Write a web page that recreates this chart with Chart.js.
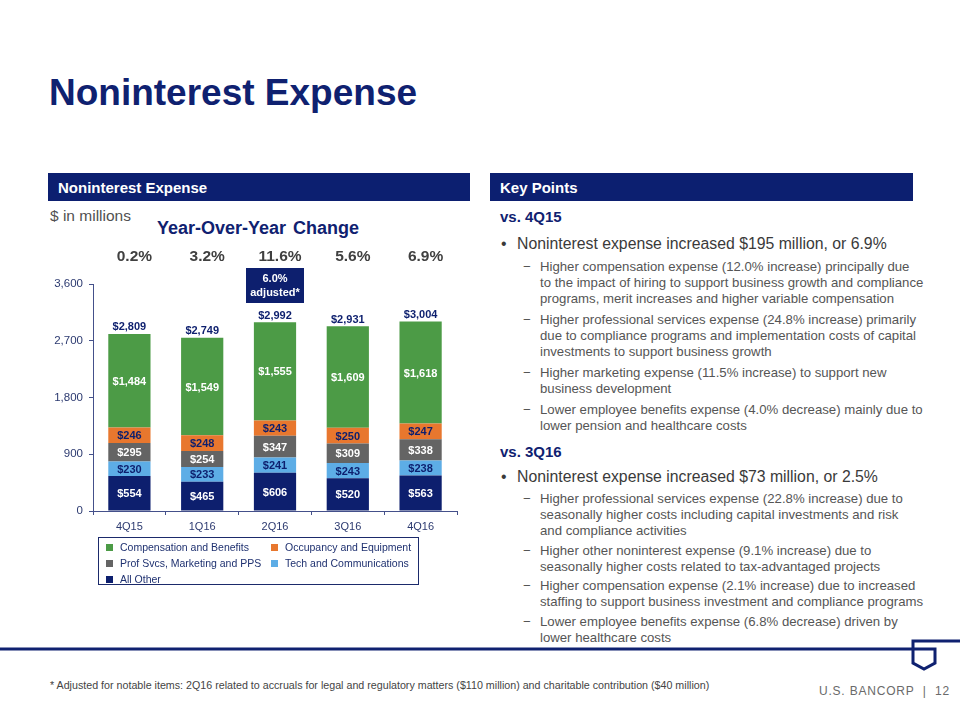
<!DOCTYPE html>
<html>
<head>
<meta charset="utf-8">
<script src="https://cdn.jsdelivr.net/npm/chart.js@4/dist/chart.umd.min.js"></script>
<style>
  body { margin: 0; width: 960px; height: 720px; background: #fff; position: relative; overflow: hidden;
         font-family: "Liberation Sans", Arial, sans-serif; }
  .abs { position: absolute; }
  .title { left: 49px; top: 72px; font-size: 37px; font-weight: bold; color: #0f2170; }
  .hdr { top: 173px; height: 28px; background: #0c1f70; color: #fff; font-weight: bold; font-size: 15px;
         line-height: 29px; padding-left: 10px; box-sizing: border-box; }
  .units { left: 50px; top: 207px; font-size: 15.5px; color: #505050; }
  .yoy { left: 157px; top: 218px; font-size: 18px; font-weight: bold; color: #0f2170; word-spacing: 2px; }
  #legend { left: 98px; top: 537px; width: 321px; height: 48px; border: 1px solid #1b2a6b; box-sizing: border-box;
            font-size: 10.5px; color: #1f3170; }
  #legend .item { position: absolute; white-space: nowrap; }
  #legend .sw { display: inline-block; width: 7px; height: 7px; margin-right: 7px; vertical-align: 0px; }
  .kp { left: 500px; color: #3c3c3c; white-space: nowrap; }
  .vs { font-size: 15px; font-weight: bold; color: #0f2170; }
  .b1 { font-size: 15.8px; color: #3a3a3a; }
  .b2 { font-size: 13.2px; color: #555; line-height: 16px; }
  .foot { left: 50px; top: 679px; font-family: "Liberation Sans Narrow", "Liberation Sans", sans-serif; font-size: 10.7px; color: #444; white-space: nowrap; }
  .brand { right: 10px; top: 684px; font-family: "Liberation Sans Narrow", "Liberation Sans", sans-serif; font-size: 12px; color: #6a6a6a; letter-spacing: 0.8px; white-space: nowrap; }
</style>
</head>
<body>
<div class="abs title">Noninterest Expense</div>
<div class="abs hdr" style="left:48px;width:422px;">Noninterest Expense</div>
<div class="abs hdr" style="left:490px;width:423px;">Key Points</div>
<div class="abs units">$ in millions</div>
<div class="abs yoy">Year-Over-Year Change</div>

<div class="abs" style="left:40px;top:240px;width:430px;height:300px;">
  <canvas id="expenseChart" width="430" height="300"></canvas>
</div>
<div class="abs" id="legend"></div>

<div class="abs kp vs" style="top:208px;">vs. 4Q15</div>
<div class="abs kp" style="top:235px;"><span class="b1" style="position:absolute;left:1px;">•</span><span class="b1" style="position:absolute;left:17px;">Noninterest expense increased $195 million, or 6.9%</span></div>
<div class="abs kp b2" style="top:259px;left:523px;">−</div>
<div class="abs kp b2" style="top:259px;left:540px;">Higher compensation expense (12.0% increase) principally due<br>to the impact of hiring to support business growth and compliance<br>programs, merit increases and higher variable compensation</div>
<div class="abs kp b2" style="top:312px;left:523px;">−</div>
<div class="abs kp b2" style="top:312px;left:540px;">Higher professional services expense (24.8% increase) primarily<br>due to compliance programs and implementation costs of capital<br>investments to support business growth</div>
<div class="abs kp b2" style="top:365px;left:523px;">−</div>
<div class="abs kp b2" style="top:365px;left:540px;">Higher marketing expense (11.5% increase) to support new<br>business development</div>
<div class="abs kp b2" style="top:402px;left:523px;">−</div>
<div class="abs kp b2" style="top:402px;left:540px;">Lower employee benefits expense (4.0% decrease) mainly due to<br>lower pension and healthcare costs</div>

<div class="abs kp vs" style="top:443px;">vs. 3Q16</div>
<div class="abs kp" style="top:468px;"><span class="b1" style="position:absolute;left:1px;">•</span><span class="b1" style="position:absolute;left:17px;">Noninterest expense increased $73 million, or 2.5%</span></div>
<div class="abs kp b2" style="top:491px;left:523px;">−</div>
<div class="abs kp b2" style="top:491px;left:540px;">Higher professional services expense (22.8% increase) due to<br>seasonally higher costs including capital investments and risk<br>and compliance activities</div>
<div class="abs kp b2" style="top:543px;left:523px;">−</div>
<div class="abs kp b2" style="top:543px;left:540px;">Higher other noninterest expense (9.1% increase) due to<br>seasonally higher costs related to tax-advantaged projects</div>
<div class="abs kp b2" style="top:578px;left:523px;">−</div>
<div class="abs kp b2" style="top:578px;left:540px;">Higher compensation expense (2.1% increase) due to increased<br>staffing to support business investment and compliance programs</div>
<div class="abs kp b2" style="top:614px;left:523px;">−</div>
<div class="abs kp b2" style="top:614px;left:540px;">Lower employee benefits expense (6.8% decrease) driven by<br>lower healthcare costs</div>

<svg class="abs" style="left:0;top:630px;" width="960" height="50">
  <polyline points="0,19 913,19" fill="none" stroke="#0f2170" stroke-width="3"/>
  <polyline points="960,11 913,11 913,33 924,39 935,33 935,19 913,19" fill="none" stroke="#0f2170" stroke-width="3" stroke-linejoin="miter"/>
</svg>
<div class="abs foot">* Adjusted for notable items: 2Q16 related to accruals for legal and regulatory matters ($110 million) and charitable contribution ($40 million)</div>
<div class="abs brand">U.S. BANCORP&nbsp;&nbsp;|&nbsp;&nbsp;12</div>

<script>
const quarters = ["4Q15", "1Q16", "2Q16", "3Q16", "4Q16"];
const allOther = [554, 465, 606, 520, 563];
const techComm = [230, 233, 241, 243, 238];
const profSvcs = [295, 254, 347, 309, 338];
const occupancy = [246, 248, 243, 250, 247];
const compensation = [1484, 1549, 1555, 1609, 1618];
const totals = [2809, 2749, 2992, 2931, 3004];
const yoyChange = ["0.2%", "3.2%", "11.6%", "5.6%", "6.9%"];
const yTicks = [0, 900, 1800, 2700, 3600];

const NAVY = "#0d1f6e";
const series = [
  { label: "All Other", data: allOther, color: NAVY, text: "#fff" },
  { label: "Tech and Communications", data: techComm, color: "#5dade6", text: NAVY },
  { label: "Prof Svcs, Marketing and PPS", data: profSvcs, color: "#646464", text: "#fff" },
  { label: "Occupancy and Equipment", data: occupancy, color: "#e8772e", text: NAVY },
  { label: "Compensation and Benefits", data: compensation, color: "#4c9b46", text: "#fff" },
];

// legend laid out like the slide: two columns, three rows
const legendOrder = [
  ["Compensation and Benefits", 0, 0], ["Occupancy and Equipment", 1, 0],
  ["Prof Svcs, Marketing and PPS", 0, 1], ["Tech and Communications", 1, 1],
  ["All Other", 0, 2],
];
const legendEl = document.getElementById("legend");
legendOrder.forEach(([name, col, row]) => {
  const s = series.find(x => x.label === name);
  const d = document.createElement("div");
  d.className = "item";
  d.style.left = (col ? 172 : 7) + "px";
  d.style.top = (3 + row * 16) + "px";
  d.innerHTML = `<span class="sw" style="background:${s.color}"></span>${name}`;
  legendEl.appendChild(d);
});

const labelsPlugin = {
  id: "labels",
  afterDatasetsDraw(chart) {
    const ctx = chart.ctx;
    const x = chart.scales.x, y = chart.scales.y;
    ctx.save();
    ctx.textAlign = "center";
    ctx.textBaseline = "middle";
    ctx.font = "bold 11px 'Liberation Sans', Arial";
    chart.data.datasets.forEach((ds, i) => {
      chart.getDatasetMeta(i).data.forEach((bar, j) => {
        ctx.fillStyle = series[i].text;
        ctx.fillText("$" + ds.data[j].toLocaleString("en-US"), bar.x, (bar.y + bar.base) / 2 + 1);
      });
    });
    ctx.fillStyle = NAVY;
    ctx.textBaseline = "bottom";
    totals.forEach((t, j) => {
      ctx.fillText("$" + t.toLocaleString("en-US"), x.getPixelForValue(j), y.getPixelForValue(t) - 1);
    });
    // year-over-year row
    ctx.font = "bold 15.5px 'Liberation Sans', Arial";
    ctx.fillStyle = "#404040";
    ctx.textBaseline = "middle";
    yoyChange.forEach((p, j) => {
      ctx.fillText(p, x.getPixelForValue(j) + 5, 17);
    });
    // adjusted callout over 2Q16
    const cx = x.getPixelForValue(2);
    ctx.fillStyle = NAVY;
    ctx.fillRect(cx - 29, 28, 58, 35);
    ctx.fillStyle = "#fff";
    ctx.font = "bold 11px 'Liberation Sans', Arial";
    ctx.fillText("6.0%", cx, 39);
    ctx.fillText("adjusted*", cx, 53);
    ctx.restore();
  }
};

new Chart(document.getElementById("expenseChart"), {
  type: "bar",
  data: {
    labels: quarters,
    datasets: series.map(s => ({
      label: s.label,
      data: s.data,
      backgroundColor: s.color,
      borderWidth: 0,
      categoryPercentage: 1,
      barPercentage: 0.58,
    })),
  },
  options: {
    responsive: false,
    animation: false,
    layout: { padding: { top: 44, right: 13, left: 0, bottom: 0 } },
    plugins: { legend: { display: false }, tooltip: { enabled: false } },
    scales: {
      x: {
        stacked: true,
        grid: { drawOnChartArea: false, tickLength: 4, color: "#44508a" },
        border: { color: "#44508a", width: 1 },
        ticks: { color: "#2c3a70", font: { size: 11, family: "'Liberation Sans', Arial" }, padding: 5 },
        afterFit: s => { s.height = 29; },
      },
      y: {
        stacked: true,
        min: 0,
        max: 3600,
        afterBuildTicks: s => { s.ticks = yTicks.map(v => ({ value: v })); },
        grid: { drawOnChartArea: false, tickLength: 4, color: "#44508a" },
        border: { color: "#44508a", width: 1 },
        ticks: { color: "#2c3a70", font: { size: 11.5, family: "'Liberation Sans', Arial" }, padding: 6,
                 callback: v => v.toLocaleString("en-US") },
        afterFit: s => { s.width = 53; },
      },
    },
  },
  plugins: [labelsPlugin],
});
</script>
</body>
</html>
